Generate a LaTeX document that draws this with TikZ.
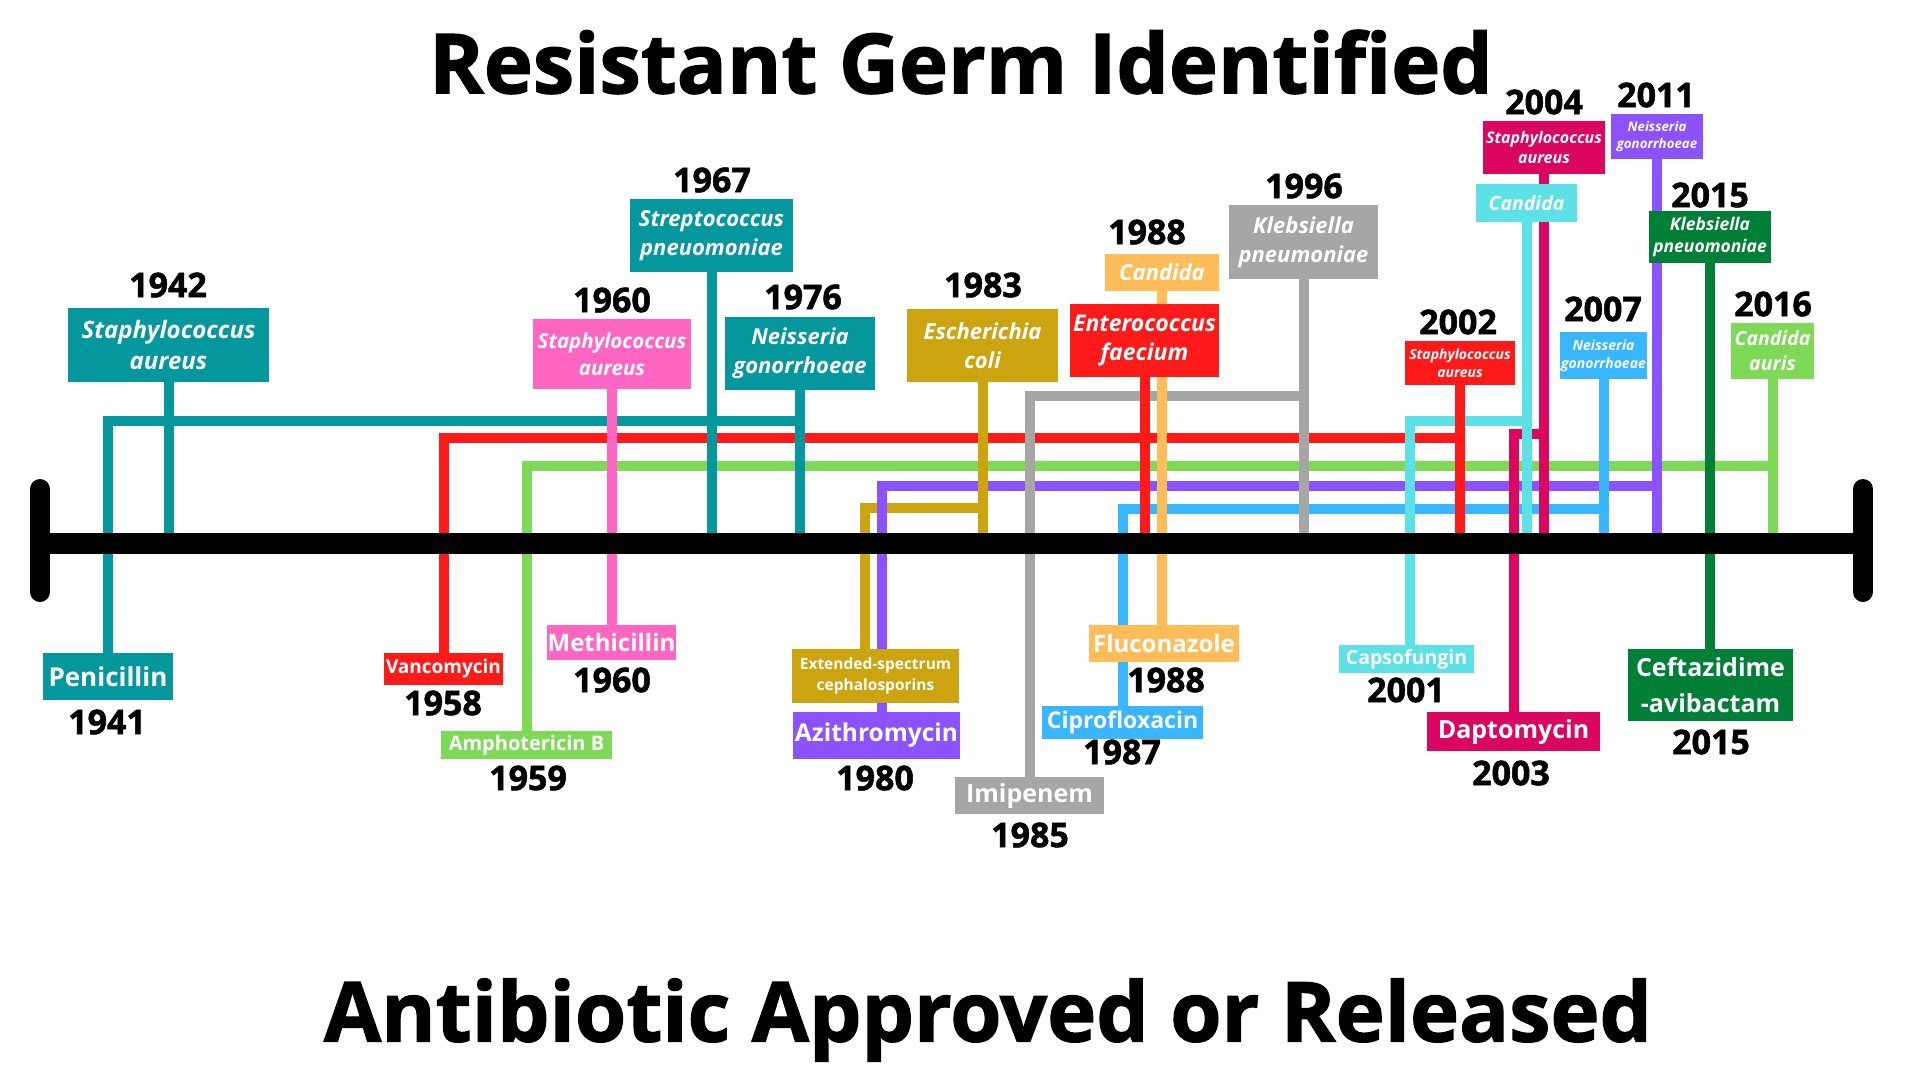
\documentclass[tikz,border=0pt]{standalone}
\usepackage{fontspec}
\setmainfont{Open Sans}
\newfontfamily\heavyfont{Open Sans}[FakeBold=1.5]

\definecolor{tealc}{HTML}{04989E}
\definecolor{pinkc}{HTML}{FF66C4}
\definecolor{redc}{HTML}{FF1A1A}
\definecolor{limec}{HTML}{7ED957}
\definecolor{goldc}{HTML}{CCA40F}
\definecolor{purplec}{HTML}{8C52FF}
\definecolor{grayc}{HTML}{A6A6A6}
\definecolor{orangec}{HTML}{FFBD59}
\definecolor{bluec}{HTML}{38B6FF}
\definecolor{cyanc}{HTML}{5CE1E6}
\definecolor{crimsonc}{HTML}{DB0660}
\definecolor{forestc}{HTML}{008037}

\newcommand\fsz[1]{\fontsize{#1}{\fpeval{1.3*#1}}\selectfont}

\pgfdeclarelayer{bg}
\pgfsetlayers{bg,main}

\tikzset{
  germ/.style n args={4}{rectangle, fill=#1, text=white, inner sep=0pt, align=center,
    minimum width=#2, minimum height=#3, font=\fsz{#4}\bfseries\itshape},
  drug/.style n args={4}{rectangle, fill=#1, text=white, inner sep=0pt, align=center,
    minimum width=#2, minimum height=#3, font=\fsz{#4}\bfseries},
  year/.style={inner sep=0pt, font=\fsz{34}\heavyfont\bfseries},
  headline/.style={inner sep=0pt, font=\fsz{83}\heavyfont\bfseries},
  link/.style={line width=10pt},
}

\begin{document}
\begin{tikzpicture}[x=1pt, y=-1pt]
	\useasboundingbox (0,0) rectangle (1920,1080);

	\node[headline] (head) at (961,62) {Resistant Germ Identified};
	\node[headline] (foot) at (988,1020) {Antibiotic Approved or Released};

	\coordinate (tl) at (40,543);
	\coordinate (tr) at (1863,543);

	% resistant germs
	\node[germ={tealc}{201}{74}{24}] (g42) at (168.5,345) {Staphylococcus\\aureus};
	\node[germ={pinkc}{158}{70}{20.5}] (g60) at (612,354) {Staphylococcus\\aureus};
	\node[germ={tealc}{163}{73}{22}] (g67) at (711.5,235.5) {Streptococcus\\pneuomoniae};
	\node[germ={tealc}{150}{73}{22}] (g76) at (800,353.5) {Neisseria\\gonorrhoeae};
	\node[germ={goldc}{151}{73}{22}] (g83) at (982.5,345.5) {Escherichia\\coli};
	\node[germ={orangec}{114}{37}{22}] (g88a) at (1162,272.5) {Candida};
	\node[germ={redc}{149}{73}{23}] (g88b) at (1144.5,340.5) {Enterococcus\\faecium};
	\node[germ={grayc}{149}{74}{22}] (g96) at (1303.5,242) {Klebsiella\\pneumoniae};
	\node[germ={redc}{110}{44}{14}] (g02) at (1460,363) {Staphylococcus\\aureus};
	\node[germ={crimsonc}{122}{53}{16}] (g04a) at (1544,147.5) {Staphylococcus\\aureus};
	\node[germ={cyanc}{101}{38}{19.5}] (g04b) at (1526.5,203) {Candida};
	\node[germ={purplec}{92}{45}{13.3}] (g11) at (1657,136.5) {Neisseria\\gonorrhoeae};
	\node[germ={bluec}{87}{47}{14}] (g07) at (1603.5,355.5) {Neisseria\\gonorrhoeae};
	\node[germ={forestc}{122}{52}{17.5}] (g15) at (1710,237) {Klebsiella\\pneuomoniae};
	\node[germ={limec}{83}{56}{19.5}] (g16) at (1772.5,351) {Candida\\auris};

	\node[year] (y42) at (168,285) {1942};
	\node[year] (y60t) at (612,300) {1960};
	\node[year] (y67) at (712,180) {1967};
	\node[year] (y76) at (803,297) {1976};
	\node[year] (y83) at (983,285) {1983};
	\node[year] (y88t) at (1147,232) {1988};
	\node[year] (y96) at (1304,186) {1996};
	\node[year] (y02) at (1458,322) {2002};
	\node[year] (y04) at (1544,102) {2004};
	\node[year] (y11) at (1656,95) {2011};
	\node[year] (y15t) at (1710,195) {2015};
	\node[year] (y07) at (1603,309) {2007};
	\node[year] (y16) at (1773,304) {2016};

	% antibiotics
	\node[drug={tealc}{130}{47}{26}] (a41) at (108,676.5) {Penicillin};
	\node[drug={redc}{119}{32}{19}] (a58) at (443.5,669) {Vancomycin};
	\node[drug={limec}{171}{28}{20}] (a59) at (526.5,745) {Amphotericin B};
	\node[drug={pinkc}{129}{35}{24}] (a60) at (611.5,642.5) {Methicillin};
	\node[drug={goldc}{167}{54}{15.5}] (a80e) at (875.5,676) {Extended-spectrum\\cephalosporins};
	\node[drug={purplec}{167}{47}{24.5}] (a80) at (876.5,735.5) {Azithromycin};
	\node[drug={grayc}{149}{37}{25}] (a85) at (1029.5,795.5) {Imipenem};
	\node[drug={orangec}{150}{37}{24}] (a88) at (1164,643.5) {Fluconazole};
	\node[drug={bluec}{161}{33}{23}] (a87) at (1122.5,722.5) {Ciprofloxacin};
	\node[drug={cyanc}{135}{28}{19.5}] (a01) at (1406.5,659) {Capsofungin};
	\node[drug={crimsonc}{173}{39}{25}] (a03) at (1513.5,731.5) {Daptomycin};
	\node[drug={forestc}{165}{72}{25}] (a15) at (1710.5,685) {Ceftazidime\\[3pt]-avibactam};

	\node[year] (y41) at (107,722) {1941};
	\node[year] (y58) at (443,703) {1958};
	\node[year] (y59) at (528,778) {1959};
	\node[year] (y60b) at (612,680) {1960};
	\node[year] (y80) at (875,778) {1980};
	\node[year] (y85) at (1030,835) {1985};
	\node[year] (y88b) at (1166,680) {1988};
	\node[year] (y87) at (1122,752) {1987};
	\node[year] (y01) at (1406,690) {2001};
	\node[year] (y03) at (1511,773) {2003};
	\node[year] (y15b) at (1711,742) {2015};

	\begin{pgfonlayer}{bg}
		\fill[white] (0,0) rectangle (1920,1080);
		% drug up to the germ it failed on
		\draw[link, tealc] (a41.north) |- (g76.south |- 0,421);
		\draw[link, redc] (a58.north) |- (g02.south |- 0,438);
		\draw[link, limec] (a59.north) |- (g16.south |- 0,466);
		\draw[link, goldc] ([xshift=-10.5pt]a80e.north) |- (g83.south |- 0,508);
		\draw[link, purplec] ([xshift=5.5pt]a80.north) |- (g11.south |- 0,486);
		\draw[link, grayc] (a85.north) |- (g96.south |- 0,396);
		\draw[link, bluec] (a87.north) |- (g07.south |- 0,509);
		\draw[link, cyanc] ([xshift=3pt]a01.north) |- (g04b.south |- 0,421);
		\draw[link, crimsonc] (a03.north) |- (g04a.south |- 0,434);
		\draw[link, pinkc] (g60.south) -- (g60.south |- a60.north);
		\draw[link, orangec] (g88a.south) -- (g88a.south |- a88.north);
		\draw[link, forestc] (g15.south) -- (g15.south |- a15.north);
		% stems down to the timeline
		\foreach \g/\c in {g42/tealc, g67/tealc, g76/tealc, g83/goldc, g88b/redc, g96/grayc,
			g02/redc, g04a/crimsonc, g04b/cyanc, g11/purplec, g07/bluec, g16/limec}
			\draw[link, \c] (\g.south) -- (\g.south |- tl);
		\draw[line width=21pt] (tl) -- (tr);
		\draw[line width=20pt, line cap=round] (tl) ++(0,-54) -- ++(0,103);
		\draw[line width=20pt, line cap=round] (tr) ++(0,-54) -- ++(0,103);
	\end{pgfonlayer}
\end{tikzpicture}
\end{document}
